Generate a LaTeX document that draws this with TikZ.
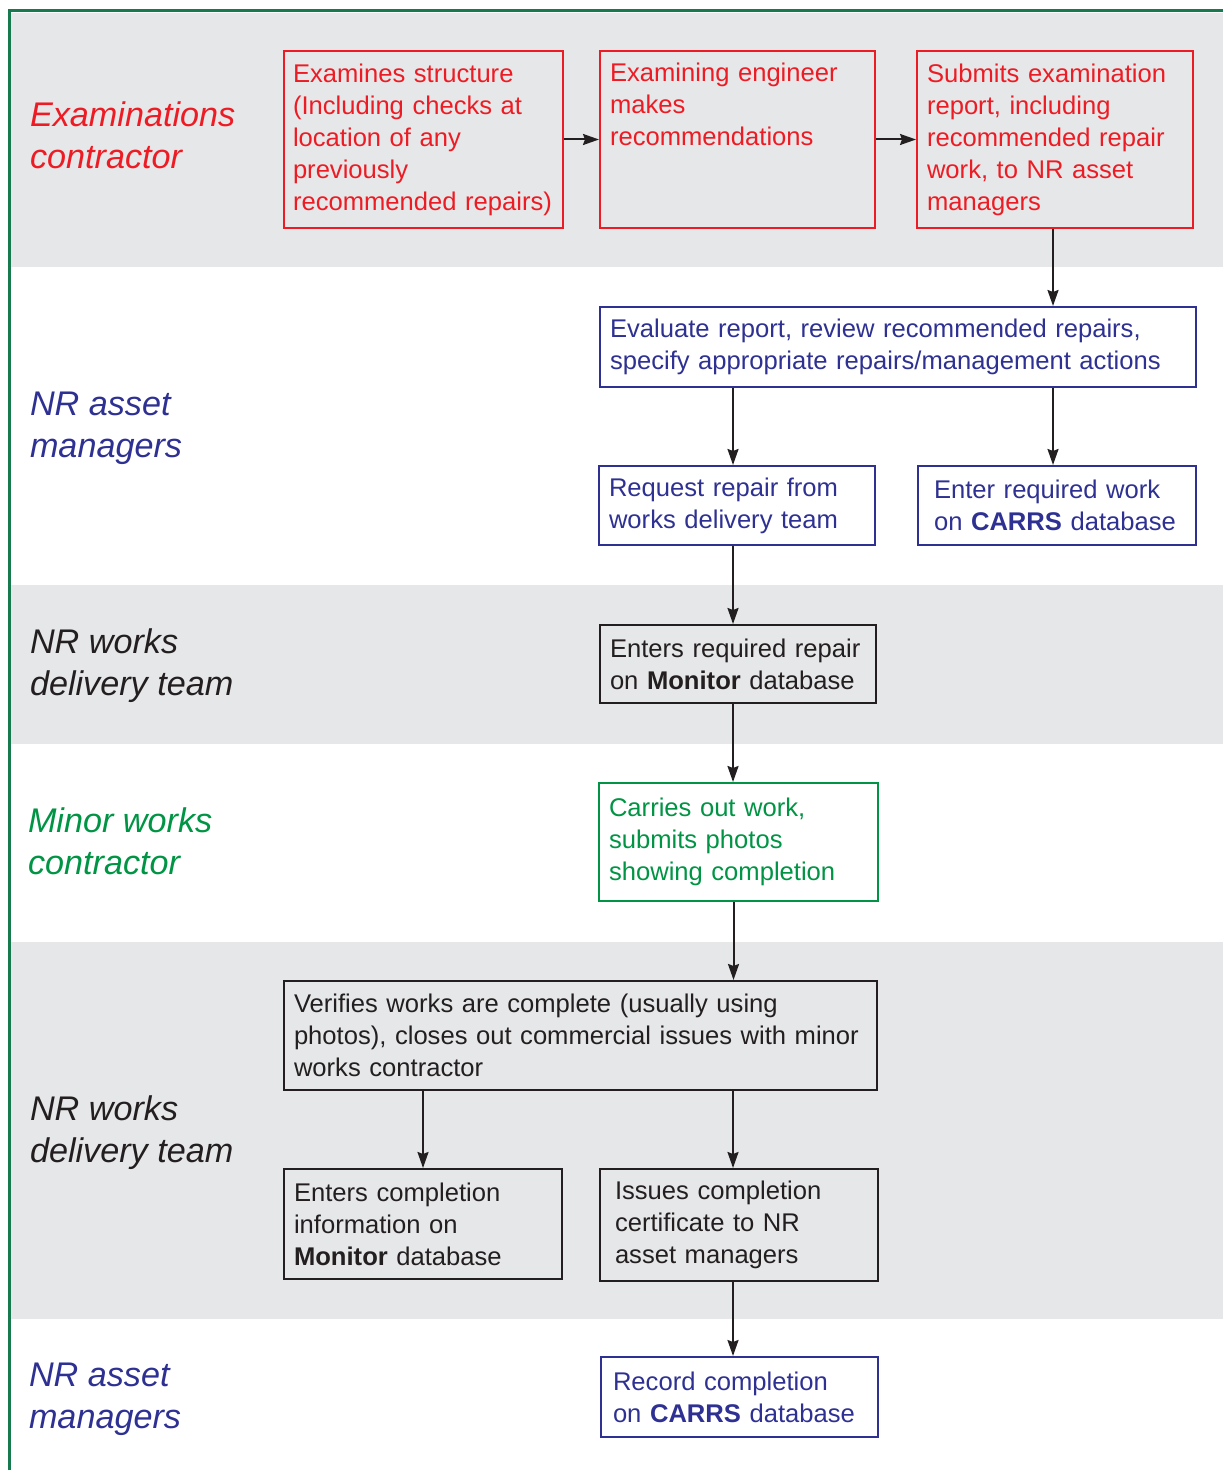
\documentclass[tikz,border=0pt]{standalone}
\usepackage{fontspec}
\setmainfont{Liberation Sans}
\usetikzlibrary{arrows.meta}
\definecolor{nrred}{RGB}{237,28,36}
\definecolor{nrblue}{RGB}{46,49,146}
\definecolor{nrgreen}{RGB}{0,148,68}
\definecolor{nrdark}{RGB}{35,31,32}
\definecolor{laneframe}{RGB}{22,122,78}
\definecolor{lanegray}{RGB}{230,231,232}

\begin{document}
\begin{tikzpicture}[x=0.5pt,y=-0.5pt,>={Stealth[length=8pt,width=5.5pt,inset=1pt]},
  line width=1pt,
  box/.style={draw,rectangle,align=left,inner xsep=5pt,inner ysep=2pt,
    font=\fontsize{12.8}{16}\selectfont},
  exam node/.style={box,draw=nrred,text=nrred},
  asset node/.style={box,draw=nrblue,text=nrblue},
  works node/.style={box,draw=nrdark,text=nrdark},
  minor node/.style={box,draw=nrgreen,text=nrgreen},
  lane label/.style={anchor=base west,align=left,inner sep=0pt,
    font=\fontsize{17.1}{20.8}\selectfont\itshape}]
  \useasboundingbox (0,0) rectangle (1223,1470);

  % swim lanes
  \fill[lanegray] (11,13) rectangle (1223,267);
  \fill[lanegray] (11,585) rectangle (1223,744);
  \fill[lanegray] (11,942) rectangle (1223,1319);
  \draw[laneframe,line width=1.5pt] (9,1470) -- (9,11) -- (1223,11);

  % base anchor sits on the last line
  \node[lane label,text=nrred] (l1) at (29,168.5) {Examinations\\contractor};
  \node[lane label,text=nrblue] (l2) at (29,457.5) {NR asset\\managers};
  \node[lane label,text=nrdark] (l3) at (29,695) {NR works\\delivery team};
  \node[lane label,text=nrgreen] (l4) at (27,874) {Minor works\\contractor};
  \node[lane label,text=nrdark] (l5) at (29,1162) {NR works\\delivery team};
  \node[lane label,text=nrblue] (l6) at (28,1428) {NR asset\\managers};

  \node[exam node,text width=130.5pt,inner xsep=4.5pt,minimum height=88.5pt] (1) at (423.5,139.5)
    {Examines structure\\(Including checks at\\location of any\\previously\\recommended repairs)};
  \node[exam node,text width=127.5pt,text height=13.5pt,text depth=71pt] (2) at (737.5,139.5)
    {Examining engineer\\makes\\recommendations};
  \node[exam node,text width=128pt,minimum height=88.5pt] (3) at (1055,139.5)
    {Submits examination\\report, including\\recommended repair\\work, to NR asset\\managers};
  \node[asset node,text width=288pt,minimum height=40pt] (4) at (898,347)
    {Evaluate report, review recommended repairs,\\specify appropriate repairs/management actions};
  \node[asset node,text width=128pt,minimum height=39.5pt] (5) at (737,505.5)
    {Request repair from\\works delivery team};
  \node[asset node,text width=123pt,inner xsep=8pt,minimum height=39.5pt] (6) at (1057,505.5)
    {Enter required work\\on \textbf{CARRS} database};
  \node[works node,text width=128pt,minimum height=39pt] (7) at (738,664)
    {Enters required repair\\on \textbf{Monitor} database};
  \node[minor node,text width=129.5pt,minimum height=59pt] (8) at (738.5,842)
    {Carries out work,\\submits photos\\showing completion};
  \node[works node,text width=286.5pt,minimum height=54.5pt] (9) at (580.5,1035.5)
    {Verifies works are complete (usually using\\photos), closes out commercial issues with minor\\works contractor};
  \node[works node,text width=129pt,minimum height=55pt] (10) at (423,1224)
    {Enters completion\\information on\\\textbf{Monitor} database};
  \node[works node,text width=124pt,inner xsep=7.5pt,minimum height=56pt] (11) at (739,1225)
    {Issues completion\\certificate to NR\\asset managers};
  \node[asset node,text width=126.5pt,inner xsep=6pt,minimum height=40pt] (12) at (739.5,1397)
    {Record completion\\on \textbf{CARRS} database};

  \path[->,nrdark]
    (1) edge (2)
    (2) edge (3)
    ([xshift=-1pt]3.south) edge ([xshift=-1pt]3.south |- 4.north)
    ([xshift=-2pt]4.south -| 5) edge ([xshift=-2pt]5.north)
    ([xshift=-2pt]4.south -| 6) edge ([xshift=-2pt]6.north)
    ([xshift=-2pt]5.south) edge ([xshift=-2pt]5.south |- 7.north)
    ([xshift=-2.5pt]7.south) edge ([xshift=-2.5pt]7.south |- 8.north)
    ([xshift=-2.5pt]8.south) edge ([xshift=-2.5pt]8.south |- 9.north)
    (9.south -| 10) edge (10)
    ([xshift=-3pt]9.south -| 11) edge ([xshift=-3pt]11.north)
    ([xshift=-3pt]11.south) edge ([xshift=-3pt]11.south |- 12.north);
\end{tikzpicture}
\end{document}
